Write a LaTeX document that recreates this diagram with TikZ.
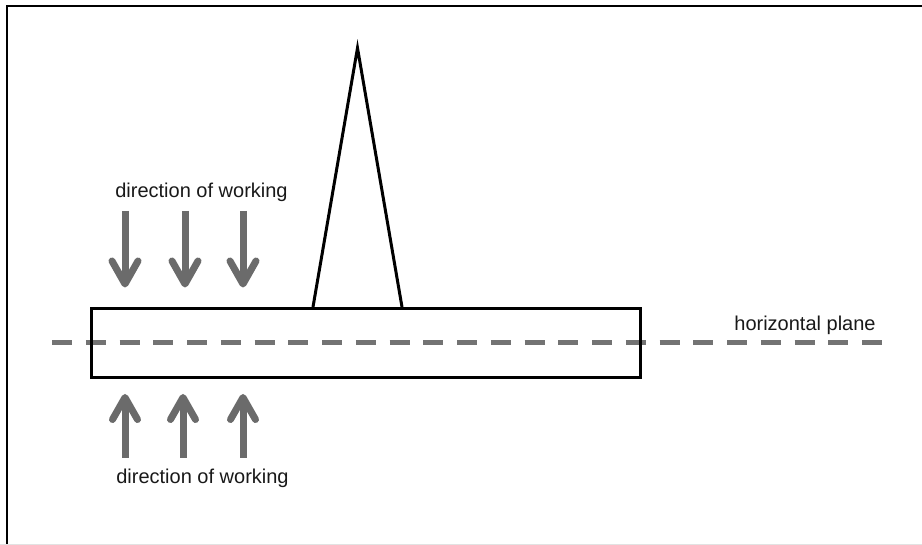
\documentclass[tikz,border=0pt]{standalone}
\usepackage{fontspec}
\setmainfont{Liberation Sans}
\definecolor{workgray}{HTML}{6B6B6B}
\definecolor{planegray}{HTML}{737373}
\definecolor{faint}{HTML}{E2E2E2}
\begin{document}
\begin{tikzpicture}[x=1pt,y=-1pt,
  frameline/.style={line width=2.5pt,black},
  bodyline/.style={draw,black,line width=3pt,line join=miter},
  shaft/.style={draw=workgray,line width=7pt,line cap=butt},
  barb/.style={draw=workgray,line width=7pt,line cap=round,line join=round},
  plane/.style={draw=planegray,line width=5pt,dash pattern=on 20pt off 13.75pt},
  label/.style={font=\fontsize{20}{24}\selectfont,text=black!90,inner sep=0pt,anchor=base}]
\useasboundingbox (0,0) rectangle (922,545);
\fill[white] (0,0) rectangle (922,545);
% frame
\draw[frameline] (7,545) -- (7,6) -- (922,6);
\draw[faint,line width=1pt] (0,544) -- (922,544);
% horizontal plane
\coordinate (pl) at (52,343);
\coordinate (pr) at (882,343);
\draw[plane] (pl) -- (pr);
% body
\node[bodyline,minimum width=549pt,minimum height=69pt,inner sep=0pt,anchor=north west] (body) at (90,307) {};
% triangle
\coordinate (apex) at (357.5,48);
\coordinate (bl) at (313,307);
\coordinate (br) at (402,307);
\draw[bodyline,line width=3pt] (bl) -- (apex) -- (br);
% down arrows
\foreach \i/\x in {1/125,2/185,3/243}{
  \coordinate (ds\i) at (\x,211);
  \coordinate (dt\i) at (\x,284);
  \draw[shaft] (ds\i) -- (dt\i);
  \draw[barb] ([shift={(-13,-23)}]dt\i) -- (dt\i) -- ([shift={(13,-23)}]dt\i);
}
% up arrows
\foreach \i/\x in {1/125,2/183,3/243}{
  \coordinate (us\i) at (\x,458);
  \coordinate (ut\i) at (\x,397.5);
  \draw[shaft] (us\i) -- (ut\i);
  \draw[barb] ([shift={(-12.5,22)}]ut\i) -- (ut\i) -- ([shift={(12.5,22)}]ut\i);
}
% labels
\node[label] (toplabel) at (201.5,197.5) {direction of working};
\node[label] (botlabel) at (202.5,483) {direction of working};
\node[label] (planelabel) at (805,331) {horizontal plane};
\end{tikzpicture}
\end{document}
